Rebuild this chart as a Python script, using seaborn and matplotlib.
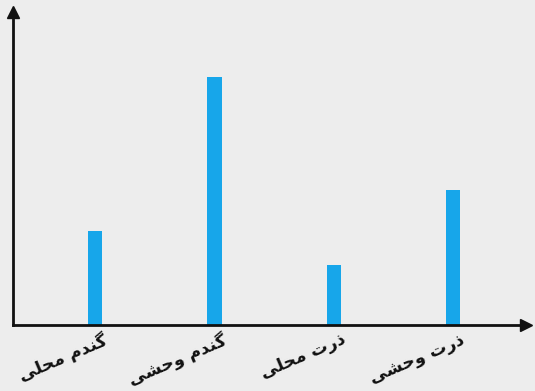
import numpy as np
import pandas as pd
import seaborn as sns
import matplotlib.pyplot as plt
import matplotlib.transforms as mtransforms

categories = ["گندم محلی", "گندم وحشی", "ذرت محلی", "ذرت وحشی"]
values = [94, 248, 60, 135]

# simple Persian shaping: letter -> (isolated, final, initial, medial)
FORMS = {
    "گ": ("\ufb92", "\ufb93", "\ufb94", "\ufb95"),
    "ن": ("\ufee5", "\ufee6", "\ufee7", "\ufee8"),
    "د": ("\ufea9", "\ufeaa", None, None),
    "ذ": ("\ufeab", "\ufeac", None, None),
    "ر": ("\ufead", "\ufeae", None, None),
    "و": ("\ufeed", "\ufeee", None, None),
    "م": ("\ufee1", "\ufee2", "\ufee3", "\ufee4"),
    "ح": ("\ufea1", "\ufea2", "\ufea3", "\ufea4"),
    "ل": ("\ufedd", "\ufede", "\ufedf", "\ufee0"),
    "ی": ("\ufbfc", "\ufbfd", "\ufbfe", "\ufbff"),
    "ت": ("\ufe95", "\ufe96", "\ufe97", "\ufe98"),
    "ش": ("\ufeb5", "\ufeb6", "\ufeb7", "\ufeb8"),
}


def shape(word):
    out = []
    for i, ch in enumerate(word):
        f = FORMS[ch]
        prev = word[i - 1] if i > 0 else None
        nxt = word[i + 1] if i < len(word) - 1 else None
        join_prev = prev is not None and FORMS[prev][2] is not None
        join_next = nxt is not None and f[2] is not None
        if join_prev and join_next:
            out.append(f[3])
        elif join_prev:
            out.append(f[1])
        elif join_next:
            out.append(f[2])
        else:
            out.append(f[0])
    return "".join(out)


def persian(text):
    shaped = " ".join(shape(w) for w in text.split(" "))
    return shaped[::-1]


df = pd.DataFrame({"cat": categories, "val": values})

sns.set_theme(style="white")
plt.rcParams["font.family"] = ["DejaVu Sans"]

fig = plt.figure(figsize=(5.35, 3.91), dpi=100, facecolor="#ededed")
ax = fig.add_axes([13 / 535, 66 / 391, 513 / 535, 313 / 391])
ax.set_facecolor("#ededed")

sns.barplot(data=df, x="cat", y="val", color="#17a6ea", saturation=1,
            width=0.12, linewidth=0, ax=ax)

ax.set_xlim(-0.687, 3.61)
ax.set_ylim(0, 313)
ax.set_xlabel("")
ax.set_ylabel("")
ax.set_yticks([])
ax.set_xticks(range(len(categories)))
ax.set_xticklabels([persian(c) for c in categories], rotation=23,
                   ha="right", rotation_mode="anchor", fontsize=12.5,
                   fontweight="bold", color="#111111")
ax.tick_params(axis="x", length=0, pad=4)
shift = mtransforms.ScaledTranslation(7 / 100, 0, fig.dpi_scale_trans)
for lab in ax.get_xticklabels():
    lab.set_transform(lab.get_transform() + shift)

for s in ["top", "right"]:
    ax.spines[s].set_visible(False)
for s in ["left", "bottom"]:
    ax.spines[s].set_color("#111111")
    ax.spines[s].set_linewidth(2)

# arrow heads
ax.plot(1, 0, ">", color="#111111", ms=8, transform=ax.transAxes, clip_on=False)
ax.plot(0, 1, "^", color="#111111", ms=8, transform=ax.transAxes, clip_on=False)

fig.savefig("out.png", dpi=100, facecolor=fig.get_facecolor())
